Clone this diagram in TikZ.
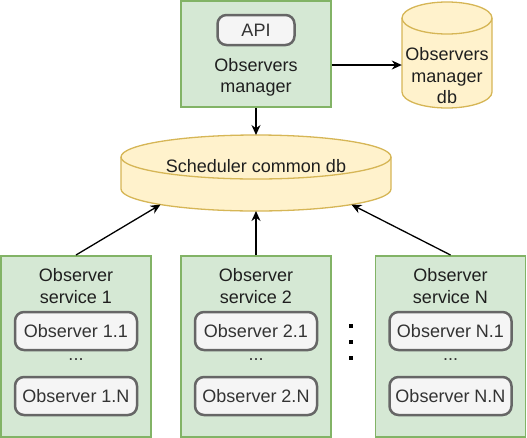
\documentclass[tikz,border=0pt]{standalone}
\usepackage{fontspec}
\setmainfont{Liberation Sans}
\usetikzlibrary{positioning,arrows.meta,calc}
\definecolor{svcfill}{HTML}{D5E8D4}
\definecolor{svcline}{HTML}{82B366}
\definecolor{dbfill}{HTML}{FFF2CC}
\definecolor{dbline}{HTML}{D6B656}
\definecolor{obsfill}{HTML}{F5F5F5}
\definecolor{obsline}{HTML}{666666}
\definecolor{obstext}{HTML}{333333}
\tikzset{
  svc/.style  ={draw=svcline, fill=svcfill, line width=1.5pt, minimum width=150pt, inner sep=0pt},
  obs/.style  ={draw=obsline, fill=obsfill, line width=2.5pt, rounded corners=9pt, text=obstext,
                minimum width=122pt, minimum height=38pt, inner sep=0pt},
  lbl/.style  ={align=center, inner sep=0pt, text=black!88},
  ar/.style   ={-{Stealth[length=10pt,width=9pt]}, line width=1.3pt},
  dbs/.style  ={draw=dbline, fill=dbfill, line width=1.3pt},
}
% cylinder: centre x, top ellipse y, bottom ellipse y, x radius, y radius
\newcommand{\dbcyl}[5]{%
  \path[dbs] (#1-#4,#2) -- (#1-#4,#3) arc[start angle=180,end angle=360,x radius=#4pt,y radius=#5pt]
    -- (#1+#4,#2) arc[start angle=0,end angle=180,x radius=#4pt,y radius=#5pt] -- cycle;
  \draw[dbs,fill=none] (#1-#4,#2) arc[start angle=180,end angle=360,x radius=#4pt,y radius=#5pt];}

\begin{document}
\begin{tikzpicture}[x=1pt,y=1pt,font=\fontsize{18}{21.5}\selectfont]
\useasboundingbox (0,0) rectangle (527,-437);
% manager
\node[svc,minimum height=106pt] (mgr) at (256,-54) {};
\node[obs,minimum width=77pt,minimum height=30pt] (api) at (256,-30) {API};
\node[lbl] (mgrtxt) at (256,-77.5) {Observers\\manager};
% databases
\dbcyl{447}{-18}{-92}{45}{16}
\node[lbl,minimum width=90pt] (mdb) at (447,-76) {Observers\\manager\\db};
\dbcyl{256}{-157}{-189}{135}{22}
\node[lbl] (sched) at (256,-166) {Scheduler common db};
\coordinate (schedT) at (256,-135);
\coordinate (schedL) at ($(256,-189)+(225:135pt and 22pt)$);
\coordinate (schedB) at (256,-211);
\coordinate (schedR) at ($(256,-189)+(315:135pt and 22pt)$);
% services
\foreach \x/\k/\n in {76/1/1, 256/2/2, 450.5/N/n} {
  \node[svc,minimum height=181pt,anchor=north] (svc\n) at (\x,-255) {};
  \node[lbl] (svc\n t) at (\x,-286) {Observer\\service \k};
  \node[obs] (obs\n a) at (\x,-331) {Observer \k.1};
  \node[lbl,text=obstext] (dots\n) at (\x,-360) {...};
  \node[obs] (obs\n b) at (\x,-396) {Observer \k.N};
}
\foreach \y in {-326,-342,-358}
  \fill (351,\y) +(-2.3,-2.3) rectangle +(2.3,2.3);
% connectors
\draw[ar] (mgr.south) -- (schedT);
\draw[ar] (mgr.east |- 0,-65) -- (mdb.west |- 0,-65);
\draw[ar] (svc1.north) -- (schedL);
\draw[ar] (svc2.north) -- (schedB);
\draw[ar] (svcn.north) -- (schedR);
\end{tikzpicture}
\end{document}
